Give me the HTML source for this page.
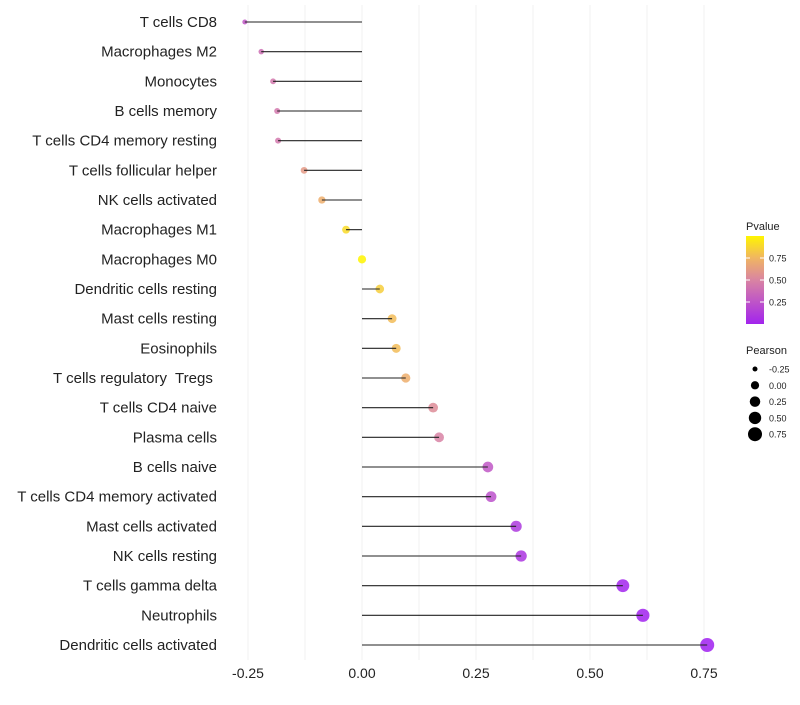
<!DOCTYPE html>
<html><head><meta charset="utf-8"><style>
body{margin:0;background:#fff;font-family:"Liberation Sans",sans-serif}
text{white-space:pre}
</style></head><body>
<svg id="c" width="800" height="700" xmlns="http://www.w3.org/2000/svg" font-family="Liberation Sans, sans-serif"></svg>
<script>
const categories=["T cells CD8","Macrophages M2","Monocytes","B cells memory","T cells CD4 memory resting","T cells follicular helper","NK cells activated","Macrophages M1","Macrophages M0","Dendritic cells resting","Mast cells resting","Eosinophils","T cells regulatory  Tregs ","T cells CD4 naive","Plasma cells","B cells naive","T cells CD4 memory activated","Mast cells activated","NK cells resting","T cells gamma delta","Neutrophils","Dendritic cells activated"];
const pearson=[-0.257,-0.221,-0.195,-0.186,-0.184,-0.127,-0.088,-0.035,0,0.039,0.066,0.075,0.096,0.156,0.169,0.276,0.283,0.338,0.349,0.572,0.616,0.757];
const pvalue=[0.28,0.4,0.45,0.45,0.45,0.62,0.72,0.9,1.0,0.85,0.78,0.78,0.72,0.55,0.5,0.28,0.25,0.12,0.1,0.02,0.01,0.0];
const xTicks=[-0.25,0,0.25,0.5,0.75];
const xTickLabels=["-0.25","0.00","0.25","0.50","0.75"];
const sizeLegend=[-0.25,0,0.25,0.5,0.75];
const sizeLegendLabels=["-0.25","0.00","0.25","0.50","0.75"];
const colorLegend=[0.25,0.5,0.75];
const colorLegendLabels=["0.25","0.50","0.75"];

const svg=document.getElementById('c');const NS="http://www.w3.org/2000/svg";
function mk(t,a,p){const e=document.createElementNS(NS,t);for(const k in a)e.setAttribute(k,a[k]);(p||svg).appendChild(e);return e;}
const x=v=>362+v*456;
const y=i=>22+i*(623/21);
const stops=[[0,[160,32,240]],[0.5,[216,130,165]],[0.75,[240,180,100]],[1,[255,245,0]]];
const col=p=>{for(let k=1;k<stops.length;k++){if(p<=stops[k][0]){const [a,ca]=stops[k-1],[b,cb]=stops[k];const t=(p-a)/(b-a);const c=ca.map((v,j)=>Math.round(v+(cb[j]-v)*t));return `rgb(${c})`;}}return 'rgb(255,245,0)';};
const rad=v=>Math.sqrt(6.25+Math.max(0,v+0.25)*42.75);
for(let v=-0.25;v<=0.76;v+=0.125){const g=mk('line',{x1:x(v),x2:x(v),y1:5,y2:660,stroke:'#f0f0f0','stroke-width':1});

}
xTicks.forEach((v,i)=>{const t=mk('text',{x:x(v),y:678,'text-anchor':'middle','font-size':14,fill:'#222'});t.textContent=xTickLabels[i];

});
const defs=mk('defs',{});const lg=mk('linearGradient',{id:'g',x1:0,y1:1,x2:0,y2:0},defs);
categories.forEach((c,i)=>{
const t=mk('text',{x:217,y:y(i)+5,'text-anchor':'end','font-size':15,fill:'#222'});t.textContent=c;


const p=mk('circle',{cx:x(pearson[i]),cy:y(i),r:rad(pearson[i]),fill:col(pvalue[i]),'fill-opacity':0.85});


const l=mk('line',{x1:x(0),x2:x(pearson[i]),y1:y(i),y2:y(i),stroke:'#222','stroke-width':1.1});


});
const t1=mk('text',{x:746,y:230,'font-size':11,fill:'#222'});t1.textContent='Pvalue';


[0,0.25,0.5,0.75,1].forEach(o=>{const p=0.02+o*0.98;mk('stop',{offset:o,'stop-color':col(p)},lg);});
const cb=mk('rect',{x:746,y:236,width:18,height:88,fill:'url(#g)'});


const cy=v=>324-v*88;
colorLegend.forEach((v,i)=>{mk('line',{x1:746,x2:750,y1:cy(v),y2:cy(v),stroke:'#fff'});mk('line',{x1:760,x2:764,y1:cy(v),y2:cy(v),stroke:'#fff'});
const t=mk('text',{x:769,y:cy(v)+3.5,'font-size':9,fill:'#222'});t.textContent=colorLegendLabels[i];

});
const t2=mk('text',{x:746,y:354,'font-size':11,fill:'#222'});t2.textContent='Pearson';


sizeLegend.forEach((v,i)=>{const yy=369+i*16.3;
const c=mk('circle',{cx:755,cy:yy,r:rad(v),fill:'#000'});


const t=mk('text',{x:769,y:yy+3.5,'font-size':9,fill:'#222'});t.textContent=sizeLegendLabels[i];

});
</script>
</body></html>
